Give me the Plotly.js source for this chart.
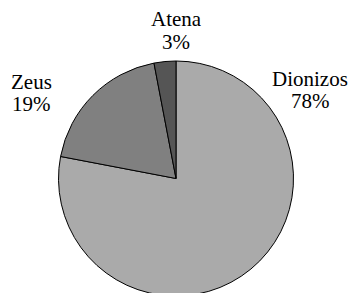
<!DOCTYPE html>
<html><head><meta charset="utf-8">
<script src="https://cdn.plot.ly/plotly-3.0.1.min.js"></script>
<style>html,body{margin:0;padding:0;overflow:hidden;background:#fff;}</style>
</head><body><div id="chart"></div>
<script>
const labels = ["Dionizos", "Zeus", "Atena"];
const values = [78, 19, 3];
const colors = ["#aaaaaa", "#808080", "#555555"];

const W = 352, H = 300;
const total = values.reduce((a, b) => a + b, 0);
// label positions (pixels): [x, y of name line, y of percent line]
const labelPos = [[310, 79, 101], [31, 82, 104], [176, 19, 42]];

const annotations = [];
labels.forEach((lab, i) => {
  const pct = Math.round(values[i] / total * 100) + "%";
  const p = labelPos[i];
  annotations.push({text: lab, x: p[0] / W, y: 1 - p[1] / H, xref: "paper", yref: "paper",
    xanchor: "center", yanchor: "middle", showarrow: false,
    font: {family: "Liberation Serif", size: 21, color: "black"}});
  annotations.push({text: pct, x: p[0] / W, y: 1 - p[2] / H, xref: "paper", yref: "paper",
    xanchor: "center", yanchor: "middle", showarrow: false,
    font: {family: "Liberation Serif", size: 21, color: "black"}});
});

const data = [{
  type: "pie",
  labels: labels,
  values: values,
  sort: false,
  direction: "clockwise",
  rotation: 0,
  textinfo: "none",
  marker: {colors: colors, line: {color: "#000", width: 1}},
  domain: {x: [58 / W, 294 / W], y: [4 / H, 239 / H]}
}];

const layout = {
  width: W, height: H,
  margin: {l: 0, r: 0, t: 0, b: 0},
  showlegend: false,
  annotations: annotations
};
Plotly.newPlot("chart", data, layout, {displayModeBar: false, staticPlot: true});
</script></body></html>
